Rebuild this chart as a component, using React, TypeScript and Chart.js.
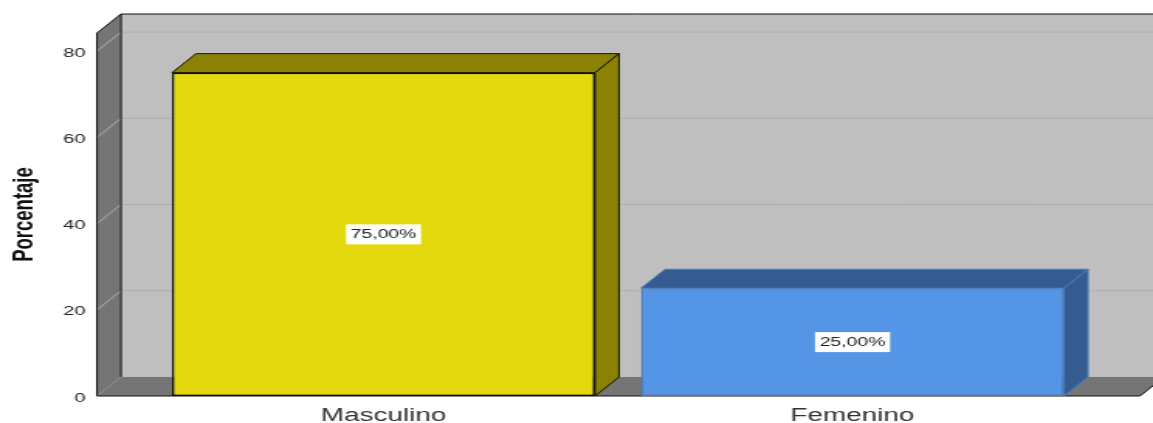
import React, { useEffect, useRef } from "react";
import { Chart, registerables } from "chart.js";

Chart.register(...registerables);

const categories = ["Masculino", "Femenino"];
const percentages = [75, 25];
const faceColors = ["#E4D80E", "#5595E6"];
const shadeColors = ["#8B8105", "#345C90"];
const edgeColors = ["#141400", "#4A7DBE"];
const valueLabels = ["75,00%", "25,00%"];

// The canvas is drawn narrower and widened with a CSS transform, which gives the wide lettering.
const CANVAS_W = 744;
const CANVAS_H = 423;
const WIDEN = 1153 / CANVAS_W;
const DEPTH_X = 24 / WIDEN;
const DEPTH_Y = 19;
const WALL_LEFT_GAP = 52 / WIDEN;
const WALL_RIGHT_GAP = 53 / WIDEN;

const box3d = {
  id: "box3d",
  beforeDatasetsDraw(chart: any) {
    const { ctx, scales } = chart;
    const { x, y } = scales;
    const l = x.left - WALL_LEFT_GAP;
    const r = x.right + WALL_RIGHT_GAP;
    const top = y.top;
    const bot = y.bottom;
    const poly = (pts: number[][], fill: string, stroke: string | null, lw = 1) => {
      ctx.beginPath();
      pts.forEach((p, i) => (i ? ctx.lineTo(p[0], p[1]) : ctx.moveTo(p[0], p[1])));
      ctx.closePath();
      ctx.fillStyle = fill;
      ctx.fill();
      if (stroke) {
        ctx.strokeStyle = stroke;
        ctx.lineWidth = lw;
        ctx.stroke();
      }
    };
    ctx.save();
    // back wall, side wall and floor
    poly([[l + DEPTH_X, top - DEPTH_Y], [r + DEPTH_X, top - DEPTH_Y], [r + DEPTH_X, bot - DEPTH_Y], [l + DEPTH_X, bot - DEPTH_Y]], "#BFBFBF", null);
    poly([[l, bot], [r, bot], [r + DEPTH_X, bot - DEPTH_Y], [l + DEPTH_X, bot - DEPTH_Y]], "#757575", null);
    poly([[l, top], [l + DEPTH_X, top - DEPTH_Y], [l + DEPTH_X, bot - DEPTH_Y], [l, bot]], "#757575", null);
    // gridlines at each tick, folding from the side wall on to the back wall
    ctx.strokeStyle = "#AEAEAE";
    ctx.lineWidth = 1;
    y.ticks.forEach((t: any) => {
      if (t.value === 0) return;
      const py = y.getPixelForValue(t.value);
      ctx.beginPath();
      ctx.moveTo(l, py);
      ctx.lineTo(l + DEPTH_X, py - DEPTH_Y);
      ctx.lineTo(r + DEPTH_X, py - DEPTH_Y);
      ctx.stroke();
    });
    // wall outlines
    ctx.strokeStyle = "#111";
    ctx.beginPath();
    ctx.moveTo(l, bot);
    ctx.lineTo(l, top);
    ctx.lineTo(l + DEPTH_X, top - DEPTH_Y);
    ctx.lineTo(r + DEPTH_X, top - DEPTH_Y);
    ctx.moveTo(l + DEPTH_X, top - DEPTH_Y);
    ctx.lineTo(l + DEPTH_X, bot - DEPTH_Y);
    ctx.moveTo(l, bot);
    ctx.lineTo(r, bot);
    ctx.lineTo(r + DEPTH_X, bot - DEPTH_Y);
    ctx.stroke();
    // top and side faces of the bars
    chart.getDatasetMeta(0).data.forEach((bar: any, i: number) => {
      const a = bar.x - bar.width / 2;
      const b = bar.x + bar.width / 2;
      poly([[a, bar.y], [a + DEPTH_X, bar.y - DEPTH_Y], [b + DEPTH_X, bar.y - DEPTH_Y], [b, bar.y]], shadeColors[i], edgeColors[i]);
      poly([[b, bar.y], [b + DEPTH_X, bar.y - DEPTH_Y], [b + DEPTH_X, bar.base - DEPTH_Y], [b, bar.base]], shadeColors[i], edgeColors[i]);
    });
    ctx.restore();
  },
  afterDatasetsDraw(chart: any) {
    const { ctx } = chart;
    ctx.save();
    ctx.font = '12.5px "Liberation Sans"';
    ctx.textAlign = "center";
    ctx.textBaseline = "middle";
    chart.getDatasetMeta(0).data.forEach((bar: any, i: number) => {
      const cy = (bar.y + bar.base) / 2;
      const w = ctx.measureText(valueLabels[i]).width + 6;
      ctx.fillStyle = "#FFFFFF";
      ctx.fillRect(bar.x - w / 2, cy - 10, w, 20);
      ctx.fillStyle = "#222";
      ctx.fillText(valueLabels[i], bar.x, cy);
    });
    ctx.restore();
  },
};

export default function App() {
  const ref = useRef<HTMLCanvasElement>(null);
  useEffect(() => {
    const chart = new Chart(ref.current as HTMLCanvasElement, {
      type: "bar",
      data: {
        labels: categories,
        datasets: [
          {
            data: percentages,
            backgroundColor: faceColors,
            borderColor: edgeColors,
            borderWidth: 1.5,
            borderSkipped: false,
            barPercentage: 0.902,
            categoryPercentage: 1,
          },
        ],
      },
      options: {
        animation: false,
        responsive: false,
        devicePixelRatio: 1,
        layout: { padding: { top: 33, right: CANVAS_W - 1087 / WIDEN, bottom: 0, left: 0 } },
        plugins: { legend: { display: false }, tooltip: { enabled: false } },
        scales: {
          x: {
            afterFit: (s: any) => {
              s.height = 27;
              s.paddingLeft = 0;
              s.paddingRight = 0;
            },
            grid: { display: false },
            border: { display: false },
            ticks: {
              color: "#333",
              padding: 1,
              maxRotation: 0,
              font: { family: "Liberation Sans", size: 18 },
            },
          },
          y: {
            min: 0,
            max: 84.2,
            afterFit: (s: any) => {
              s.width = 149 / WIDEN;
              s.paddingTop = 0;
              s.paddingBottom = 0;
            },
            grid: { display: false },
            border: { display: false },
            title: {
              display: true,
              text: "Porcentaje",
              color: "#111",
              padding: { top: 5, bottom: 0 },
              font: { family: "Liberation Sans", size: 18.5, weight: "bold" },
            },
            ticks: {
              stepSize: 20,
              includeBounds: false,
              color: "#222",
              padding: 33,
              labelOffset: 2,
              font: { family: "Liberation Sans", size: 13 },
            },
          },
        },
      },
      plugins: [box3d],
    } as any);
    return () => chart.destroy();
  }, []);
  return (
    <div style={{ position: "fixed", left: 0, top: 0, width: 1153, height: CANVAS_H, overflow: "hidden", background: "#fff" }}>
      <canvas
        ref={ref}
        width={CANVAS_W}
        height={CANVAS_H}
        style={{ transform: `scaleX(${WIDEN})`, transformOrigin: "0 0" }}
      />
    </div>
  );
}
